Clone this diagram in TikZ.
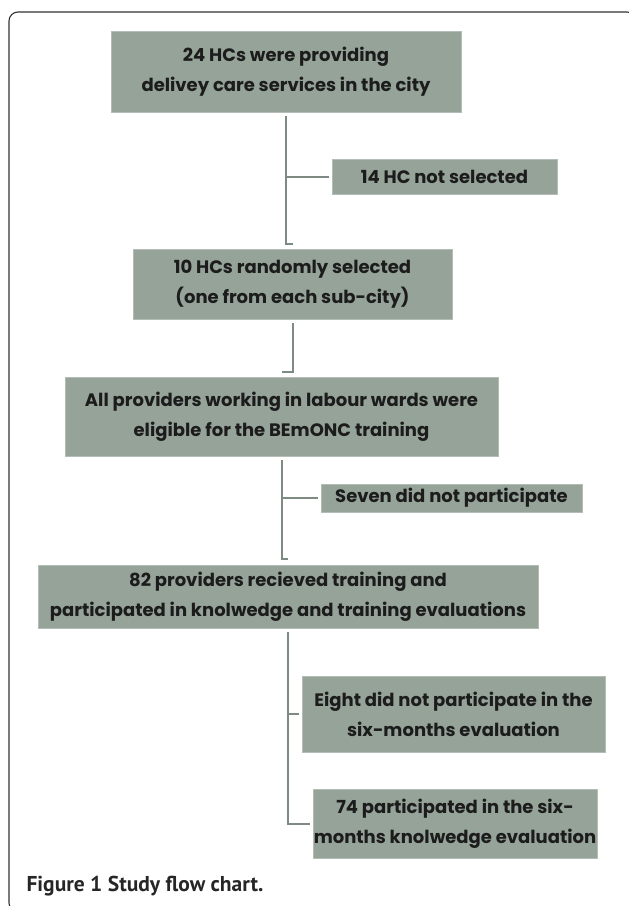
\documentclass[tikz,border=0pt]{standalone}
\usepackage{fontspec}
\setmainfont{Poppins}
\newfontfamily\capfont{PT Sans}
\definecolor{boxgreen}{HTML}{95A398}
\definecolor{boxedge}{HTML}{B3BDB5}
\definecolor{linkgreen}{HTML}{7E8B83}
\definecolor{textdark}{HTML}{1C1C1C}
\begin{document}
\begin{tikzpicture}[x=1pt, y=-1pt,
    box/.style={fill=boxgreen, draw=boxedge, line width=0.8pt, inner sep=0pt,
      align=center, text=textdark, font=\fontsize{18}{30}\selectfont\bfseries},
    link/.style={draw=linkgreen, line width=2pt}]
        \useasboundingbox (0,0) rectangle (629,906);
        % frame
        \draw[black!80, line width=1.1pt, rounded corners=9pt] (9,12) rectangle (636,912);
        % boxes
        \node[box, minimum width=350pt, minimum height=81pt] (hcs) at (286,71.5)
          {24 HCs were providing\\delivey care services in the city};
        \node[box, minimum width=225pt, minimum height=35pt] (notsel) at (444.5,176.5)
          {14 HC not selected};
        \node[box, minimum width=319pt, minimum height=70pt] (rand) at (292.5,284)
          {10 HCs randomly selected\\(one from each sub-city)};
        \node[box, minimum width=433pt, minimum height=79pt] (elig) at (281.5,416.5)
          {All providers working in labour wards were\\eligible for the BEmONC training};
        \node[box, minimum width=261pt, minimum height=28pt] (seven) at (451.5,498)
          {Seven did not participate};
        \node[box, minimum width=500pt, minimum height=63pt] (trained) at (288,596.5)
          {82 providers recieved training and\\participated in knolwedge and training evaluations};
        \node[box, minimum width=303pt, minimum height=76pt] (eight) at (453.5,714)
          {Eight did not participate in the\\six-months evaluation};
        \node[box, minimum width=284pt, minimum height=69pt] (six) at (455,823.5)
          {74 participated in the six-\\months knolwedge evaluation};
        % connectors
        \draw[link] ([yshift=-4pt]hcs.south) |- ([yshift=5pt]rand.north);
        \draw[link] (hcs.south |- notsel.west) -- ([xshift=-3pt]notsel.west);
        \draw[link] ([yshift=-4pt]rand.south) |- ([yshift=5pt]elig.north);
        \draw[link] ([yshift=-4pt]elig.south) |- ([yshift=6pt]trained.north);
        \draw[link] (elig.south |- seven.west) -- ([xshift=-3pt]seven.west);
        \draw[link] ([yshift=-4pt]trained.south) |- ([xshift=-3pt]six.west);
        \draw[link] (trained.south |- eight.west) -- ([xshift=-3pt]eight.west);
        % caption
        \node[anchor=west, text=black!85, font=\capfont\fontsize{21.5}{24}\selectfont\bfseries] (caption) at (23,886)
          {Figure 1 Study flow chart.};
\end{tikzpicture}
\end{document}
